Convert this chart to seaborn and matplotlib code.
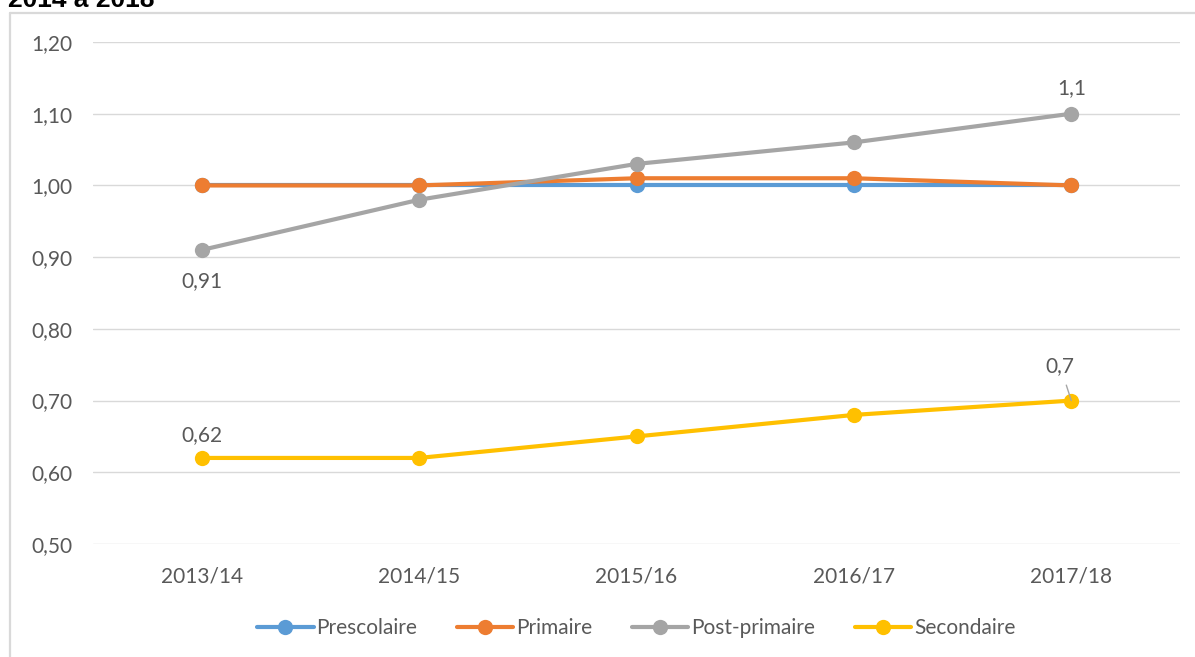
import numpy as np
import pandas as pd
import matplotlib.pyplot as plt
import seaborn as sns
from matplotlib.lines import Line2D

annees = ['2013/14', '2014/15', '2015/16', '2016/17', '2017/18']
prescolaire = [1.00, 1.00, 1.00, 1.00, 1.00]
primaire = [1.00, 1.00, 1.01, 1.01, 1.00]
post_primaire = [0.91, 0.98, 1.03, 1.06, 1.10]
secondaire = [0.62, 0.62, 0.65, 0.68, 0.70]
series = ['Prescolaire', 'Primaire', 'Post-primaire', 'Secondaire']
colors = ['#5B9BD5', '#ED7D31', '#A5A5A5', '#FFC000']

df = pd.DataFrame({
    'annee': annees * 4,
    'valeur': prescolaire + primaire + post_primaire + secondaire,
    'serie': np.repeat(series, len(annees)),
})

sns.set_style('white')
plt.rcParams['font.family'] = ['Lato', 'DejaVu Sans']
text_color = '#595959'

fig = plt.figure(figsize=(11.95, 6.57), dpi=100)
ax = fig.add_axes([93 / 1195, 1 - 544 / 657, (1180 - 93) / 1195, (544 - 42) / 657])

sns.lineplot(data=df, x='annee', y='valeur', hue='serie', palette=colors, sort=False,
             marker='o', markersize=11, markeredgewidth=0, linewidth=3, ax=ax)

ax.set_xlim(-0.5, 4.5)
ax.set_ylim(0.5, 1.2)
ax.set_yticks(np.arange(0.5, 1.21, 0.1))
ax.set_yticklabels([f'{v:.2f}'.replace('.', ',') for v in np.arange(0.5, 1.21, 0.1)])
ax.yaxis.grid(True, color='#D9D9D9', linewidth=1)
ax.set_axisbelow(True)
for s in ax.spines.values():
    s.set_visible(False)
ax.tick_params(axis='y', length=0, pad=15, labelsize=15, labelcolor=text_color)
ax.tick_params(axis='x', length=0, pad=16, labelsize=15, labelcolor=text_color)
ax.set_xlabel('')
ax.set_ylabel('')

# data labels
lab_kw = dict(ha='center', va='center', fontsize=15, color=text_color, textcoords='offset pixels')
ax.annotate('1,1', (4, post_primaire[4]), xytext=(0, 26), **lab_kw)
ax.annotate('0,91', (0, post_primaire[0]), xytext=(0, -31), **lab_kw)
ax.annotate('0,62', (0, secondaire[0]), xytext=(0, 23), **lab_kw)
ax.annotate('0,7', (4, secondaire[4]), xytext=(-11, 34), **lab_kw,
            arrowprops=dict(arrowstyle='-', color='#A6A6A6', lw=1, shrinkA=4, shrinkB=0))

leg = ax.legend(loc='center', bbox_to_anchor=(0.5, 1 - (628 - 42) / (544 - 42)), ncol=4,
                frameon=False, fontsize=15, handlelength=2.7, columnspacing=1.9, handletextpad=0.15)
for t in leg.get_texts():
    t.set_color(text_color)

# chart frame (top and left edges)
fig.add_artist(Line2D([10 / 1195, 1], [1 - 13 / 657, 1 - 13 / 657], color='#D9D9D9', lw=1.6))
fig.add_artist(Line2D([10 / 1195, 10 / 1195], [0, 1 - 13 / 657], color='#D9D9D9', lw=1.6))

fig.text(8 / 1195, 1 - 7 / 657, '2014 à 2018', va='baseline', ha='left', fontsize=19,
         fontweight='bold', family='Liberation Sans', color='black')

fig.savefig('out.png', dpi=100)
